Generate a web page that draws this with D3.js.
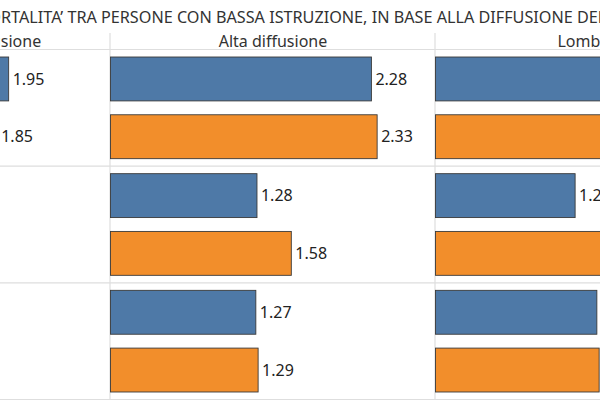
<!DOCTYPE html>
<html>
<head>
<meta charset="utf-8">
<script src="https://cdn.jsdelivr.net/npm/d3@7"></script>
<style>
  body { margin: 0; background: #fff; }
  svg { display: block; font-family: "Noto Sans", sans-serif; }
</style>
</head>
<body>
<div id="chart"></div>
<script>
// data
const titleText = "MORTALITA’ TRA PERSONE CON BASSA ISTRUZIONE, IN BASE ALLA DIFFUSIONE DEL VIRUS";
const panels = ["Media e bassa diffusione", "Alta diffusione", "Lombardia"];
const rows = ["Totale", "Uomini", "Donne"];
const series = ["Marzo", "Aprile"];
// values per panel, per row: [Marzo, Aprile]
const bassaValues = [[1.95, 1.85], [1.35, 1.30], [1.30, 1.25]];
const altaValues = [[2.28, 2.33], [1.28, 1.58], [1.27, 1.29]];
const lombardiaValues = [[2.55, 2.65], [1.22, 1.60], [1.41, 1.43]];
const colors = ["#4e79a7", "#f28e2b"];

const allValues = [bassaValues, altaValues, lombardiaValues];

const width = 600, height = 400;
const panelW = 325;
const firstPanelX = -215;
const headerTop = 33, headerBottom = 49.5, bottom = 399.5;

const svg = d3.select("#chart").append("svg")
    .attr("width", width)
    .attr("height", height);

// title: only a slice of it is in view, centre that slice like the original
const title = svg.append("text")
    .attr("y", 23)
    .attr("font-size", 16.2)
    .attr("fill", "#333")
    .text(titleText);
const tNode = title.node();
const rX = tNode.getStartPositionOfChar(titleText.indexOf("RTALITA")).x;
const delX = tNode.getEndPositionOfChar(titleText.indexOf("DEL") + 2).x;
title.attr("x", 1 - rX);

const panelScale = d3.scaleBand()
    .domain(panels)
    .range([firstPanelX, firstPanelX + panelW * panels.length]);

const rowScale = d3.scaleBand()
    .domain(rows)
    .range([headerBottom, bottom]);

const seriesScale = d3.scaleBand()
    .domain(series)
    .range([0, rowScale.bandwidth()])
    .paddingInner(0.24)
    .paddingOuter(0.13);

const xScale = d3.scaleLinear()
    .domain([0, 2.84])
    .range([0, panelW]);

// grid lines
const gridG = svg.append("g").attr("class", "grid");
[headerBottom].concat(rows.map(r => rowScale(r) + rowScale.bandwidth())).forEach(y => {
    gridG.append("line")
        .attr("x1", 0).attr("x2", width)
        .attr("y1", y).attr("y2", y)
        .attr("stroke", "#dedede").attr("stroke-width", 1.2);
});
panels.slice(1).forEach(p => {
    gridG.append("line")
        .attr("x1", panelScale(p)).attr("x2", panelScale(p))
        .attr("y1", headerTop).attr("y2", bottom)
        .attr("stroke", "#dedede").attr("stroke-width", 1.2);
});

// panels
panels.forEach((p, pi) => {
    const g = svg.append("g")
        .attr("class", "panelG")
        .attr("transform", "translate(" + (panelScale(p) + 0.5) + ",0)");

    g.append("text")
        .attr("x", panelW / 2)
        .attr("y", 47)
        .attr("text-anchor", "middle")
        .attr("font-size", 16)
        .attr("fill", "#333")
        .text(p);

    rows.forEach((r, ri) => {
        series.forEach((s, si) => {
            const v = allValues[pi][ri][si];
            const y = rowScale(r) + seriesScale(s);
            g.append("rect")
                .attr("x", 0)
                .attr("y", y)
                .attr("width", xScale(v))
                .attr("height", seriesScale.bandwidth())
                .attr("fill", colors[si])
                .attr("stroke", "#3a3a3a")
                .attr("stroke-width", 0.9);
            g.append("text")
                .attr("x", xScale(v) + 4)
                .attr("y", y + seriesScale.bandwidth() / 2)
                .attr("dy", "0.36em")
                .attr("font-size", 16)
                .attr("fill", "#222")
                .text(d3.format(".2f")(v));
        });
    });
});
</script>
</body>
</html>
